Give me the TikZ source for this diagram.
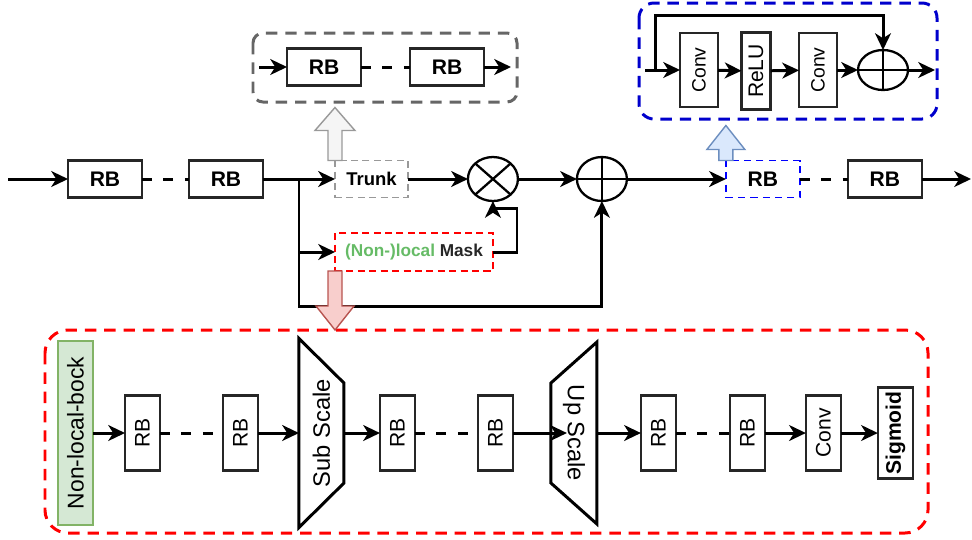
\documentclass[tikz,border=0pt]{standalone}
\usepackage{fontspec}
\setmainfont{Liberation Sans}
\usepackage{graphicx}
\usetikzlibrary{shapes.geometric, arrows.meta, positioning, calc}
\definecolor{groupgray}{HTML}{666666}
\definecolor{groupblue}{HTML}{0000CC}
\definecolor{groupred}{HTML}{FF0000}
\definecolor{maskgreen}{HTML}{66BB66}
\definecolor{hintgrayfill}{HTML}{F5F5F5}
\definecolor{hintgraydraw}{HTML}{999999}
\definecolor{hintbluefill}{HTML}{DAE8FC}
\definecolor{hintbluedraw}{HTML}{6C8EBF}
\definecolor{hintredfill}{HTML}{F8CECC}
\definecolor{hintreddraw}{HTML}{B85450}
\definecolor{nlfill}{HTML}{D5E8D4}
\definecolor{nldraw}{HTML}{82B366}
\tikzstyle{arrow} = [-{Stealth[length=9.5pt, width=9pt, inset=2.8pt]}, line width=1.7pt]

\begin{document}
\begin{tikzpicture}[
    x=0.02cm, y=-0.02cm,
    rbox/.style={rectangle, draw=black!85, line width=1.3pt, outer sep=0pt, minimum width=1.48cm, minimum height=0.74cm, inner sep=0pt, font=\fontsize{12}{14}\selectfont\bfseries},
    trunkbox/.style={rbox, draw=black!40, line width=0.9pt, dash pattern=on 4pt off 2.5pt, minimum width=1.46cm, font=\fontsize{10.5}{12}\selectfont\bfseries},
    maskbox/.style={rbox, draw=groupred, line width=1pt, dash pattern=on 4pt off 2.5pt, minimum width=3.16cm, minimum height=0.76cm, font=\fontsize{9.8}{12}\selectfont\bfseries},
    bluerb/.style={rbox, draw=blue, line width=1.1pt, dash pattern=on 4pt off 3pt},
    vbox/.style={rectangle, draw=black!85, line width=1.2pt, outer sep=0pt, minimum width=0.7cm, minimum height=1.5cm, inner sep=0pt, font=\fontsize{12}{14}\selectfont},
    convbox/.style={vbox, line width=1.3pt, minimum width=0.76cm, minimum height=1.48cm, font=\fontsize{11}{13}\selectfont},
    nlbox/.style={vbox, fill=nlfill, draw=nldraw, minimum height=3.68cm, font=\fontsize{13}{15}\selectfont},
    scalebox/.style={rectangle, inner sep=0pt, outer sep=0pt, minimum width=0.9cm, minimum height=3.78cm, font=\fontsize{13.5}{15}\selectfont},
    sumnode/.style={ellipse, draw, line width=1.3pt, outer sep=0pt, minimum width=1cm, minimum height=0.88cm, inner sep=0pt},
    dashlink/.style={line width=1.7pt, dash pattern=on 5.7pt off 6.5pt},
    groupbox/.style={line width=1.7pt, dash pattern=on 6.5pt off 4.5pt}
]
    \useasboundingbox (0,0) rectangle (972,539);

    % Main row
    \coordinate (in) at (8,179);
    \node[rbox] (rb1) at (105,179) {RB};
    \node[rbox, right=0.94cm of rb1] (rb2) {RB};
    \node[trunkbox, right=1.44cm of rb2] (trunk) {Trunk};
    \node[sumnode, right=1.2cm of trunk] (mul) {};
    \node[sumnode, right=1.18cm of mul] (add) {};
    \node[bluerb, right=1.98cm of add] (rb3) {RB};
    \node[rbox, right=0.96cm of rb3] (rb4) {RB};
    \coordinate (out) at (971,179);
    \coordinate (split) at (299,179);
    \coordinate (loop) at (299,306);
    \node[maskbox] (mask) at (414,252) {{\color{maskgreen}(Non-)local} \color{black!85}Mask};

    \draw[line width=1.3pt] (mul.north east) -- (mul.south west) (mul.north west) -- (mul.south east);
    \draw[line width=1.3pt] (add.north) -- (add.south) (add.west) -- (add.east);

    % Connections
    \draw[arrow] (in) -- (rb1);
    \draw[dashlink] (rb1) -- (rb2);
    \draw[line width=1.7pt] (rb2) -- (split);
    \draw[arrow] (split) -- (trunk);
    \draw[arrow] (split) |- (mask);
    \draw[arrow] (split) -- (loop) -| (add);
    \draw[arrow] (trunk) -- (mul);
    \draw[arrow] (mul) -- (add);
    \draw[arrow] (mask.east) -- ++(24,0) |- ($(mul.south)+(0,7)$) -- (mul.south);
    \draw[arrow] (add) -- (rb3);
    \draw[dashlink] (rb3) -- (rb4);
    \draw[arrow] (rb4) -- (out);

    % Trunk detail
    \draw[groupbox, draw=groupgray, rounded corners=0.2cm] (253,33) rectangle (517,102);
    \coordinate (tin) at (259,67);
    \node[rbox] (trb1) at (324,67) {RB};
    \node[rbox] (trb2) at (447,67) {RB};
    \coordinate (tout) at (511,67);
    \draw[arrow] (tin) -- (trb1);
    \draw[dashlink] (trb1) -- (trb2);
    \draw[arrow] (trb2) -- (tout);
    \draw[fill=hintgrayfill, draw=hintgraydraw, line width=0.8pt] ($(trunk.north west)+(-7,0)$) -- ++(0,-30) -- ++(-13,0) -- ++(20,-23) -- ++(20,23) -- ++(-13,0) -- ++(0,30) -- cycle;

    % Residual block detail
    \draw[groupbox, draw=groupblue, rounded corners=0.3cm] (639,3) rectangle (937,119);
    \coordinate (rin) at (645,70);
    \coordinate (skip) at (655,70);
    \node[convbox] (conv1) at (699,70) {\rotatebox{90}{Conv}};
    \node[convbox, minimum width=0.58cm, minimum height=1.54cm, font=\fontsize{12}{14}\selectfont] (relu) at (756,71) {\rotatebox{90}{ReLU}};
    \node[convbox] (conv2) at (818,70) {\rotatebox{90}{Conv}};
    \node[sumnode, minimum height=0.8cm] (add2) at (883,70) {};
    \draw[line width=1.3pt] (add2.north) -- (add2.south) (add2.west) -- (add2.east);
    \coordinate (rout) at (935,70);
    \draw[arrow] (rin) -- (conv1);
    \draw[arrow] (conv1) -- (relu);
    \draw[arrow] (relu) -- (conv2);
    \draw[arrow] (conv2) -- (add2);
    \draw[arrow] (add2) -- (rout);
    \draw[arrow] (skip) -- ++(0,-55) -| (add2);
    \draw[fill=hintbluefill, draw=hintbluedraw, line width=0.8pt] ($(rb3.north west)+(-7,0)$) -- ++(0,-11) -- ++(-12,0) -- ++(19,-24) -- ++(19,24) -- ++(-12,0) -- ++(0,11) -- cycle;

    % Mask detail
    \draw[groupbox, draw=groupred, rounded corners=0.46cm] (45,330) rectangle (928,533);
    \node[nlbox] (nl) at (75.5,433) {\rotatebox{90}{Non-local-bock}};
    \node[vbox, right=0.64cm of nl] (b1) {\rotatebox{90}{RB}};
    \node[vbox, right=1.26cm of b1] (b2) {\rotatebox{90}{RB}};
    \node[scalebox, right=0.82cm of b2] (sub) {\rotatebox{90}{Sub Scale}};
    \node[vbox, right=0.72cm of sub] (b3) {\rotatebox{90}{RB}};
    \node[vbox, right=1.26cm of b3] (b4) {\rotatebox{90}{RB}};
    \node[scalebox, minimum width=0.92cm, minimum height=3.64cm, right=0.76cm of b4] (up) {\rotatebox{-90}{Up Scale}};
    \node[vbox, right=0.88cm of up] (b5) {\rotatebox{90}{RB}};
    \node[vbox, right=1.08cm of b5] (b6) {\rotatebox{90}{RB}};
    \node[vbox, right=0.82cm of b6] (cv) {\rotatebox{90}{Conv}};
    \node[vbox, minimum height=1.82cm, right=0.74cm of cv] (sig) {\rotatebox{90}{\textbf{Sigmoid}}};
    \coordinate (upin) at ($(up.west)+(16,0)$);

    \draw[line width=1.7pt, line join=miter] (sub.north west) -- ($(sub.east)+(0,-50)$) -- ($(sub.east)+(0,50)$) -- (sub.south west) -- cycle;
    \draw[line width=1.7pt, line join=miter] (up.north east) -- (up.south east) -- ($(up.west)+(0,50)$) -- ($(up.west)+(0,-50)$) -- cycle;

    \draw[arrow] (nl) -- (b1);
    \draw[dashlink] (b1) -- (b2);
    \draw[arrow] (b2) -- (sub);
    \draw[arrow] (sub) -- (b3);
    \draw[dashlink] (b3) -- (b4);
    \draw[arrow] (b4) -- (upin);
    \draw[arrow] (up) -- (b5);
    \draw[dashlink] (b5) -- (b6);
    \draw[arrow] (b6) -- (cv);
    \draw[arrow] (cv) -- (sig);
    \draw[fill=hintredfill, draw=hintreddraw, line width=0.8pt] ($(mask.south west)+(-7,0)$) -- ++(0,35) -- ++(-12,0) -- ++(19,24) -- ++(19,-24) -- ++(-12,0) -- ++(0,-35) -- cycle;

\end{tikzpicture}
\end{document}
